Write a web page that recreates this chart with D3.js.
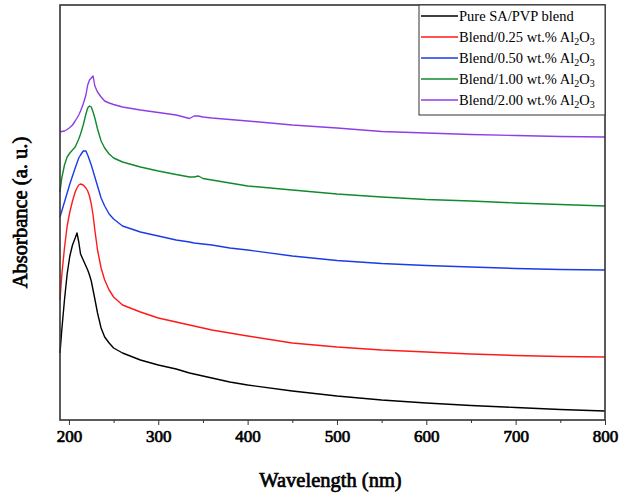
<!DOCTYPE html>
<html>
<head>
<meta charset="utf-8">
<script src="https://cdnjs.cloudflare.com/ajax/libs/d3/7.8.5/d3.min.js"></script>
<style>
  body { margin: 0; background: #fff; }
  svg { font-family: "Liberation Serif", "Times New Roman", serif; }
  .x.axis text, .title {
    font-family: "Liberation Serif", "Times New Roman", serif;
    font-weight: normal;
    fill: #000;
    stroke: #000;
    stroke-width: 0.7px;
  }
  .x.axis text { font-size: 17px; }
  .axis path, .axis line { stroke: #333; }
</style>
</head>
<body>
<script>
// wavelength grid (nm), shared by all series
var wavelength = [190,192,195,198,201,204,207,209,211,213,216,219,221,223,225,227,229,232,236,240,245,250,260,280,300,320,335,340,345,350,360,380,400,450,500,550,600,650,700,750,800];

// absorbance (a.u., offset as in the figure)
var pureBlend = [0.67,0.90,1.20,1.46,1.64,1.75,1.82,1.87,1.78,1.66,1.60,1.54,1.50,1.45,1.39,1.30,1.21,1.07,0.92,0.83,0.77,0.72,0.67,0.60,0.55,0.51,0.47,0.46,0.45,0.44,0.42,0.38,0.35,0.29,0.24,0.20,0.17,0.145,0.125,0.105,0.09];
var blend025 = [1.20,1.45,1.72,1.94,2.08,2.19,2.28,2.32,2.35,2.36,2.35,2.32,2.29,2.24,2.16,2.05,1.90,1.70,1.52,1.40,1.30,1.23,1.15,1.08,1.02,0.98,0.95,0.94,0.93,0.92,0.90,0.87,0.84,0.77,0.73,0.70,0.68,0.66,0.645,0.635,0.63];
var blend050 = [2.03,2.09,2.18,2.27,2.36,2.44,2.52,2.57,2.62,2.65,2.69,2.69,2.65,2.60,2.55,2.49,2.43,2.34,2.22,2.14,2.06,2.01,1.94,1.88,1.84,1.80,1.78,1.77,1.765,1.76,1.75,1.72,1.70,1.64,1.595,1.565,1.545,1.53,1.515,1.505,1.50];
var blend100 = [2.28,2.42,2.55,2.63,2.67,2.70,2.73,2.77,2.81,2.86,2.95,3.06,3.12,3.14,3.13,3.08,3.02,2.91,2.79,2.72,2.66,2.62,2.58,2.53,2.49,2.455,2.43,2.43,2.44,2.415,2.40,2.37,2.34,2.30,2.26,2.23,2.205,2.19,2.17,2.155,2.14];
var blend200 = [2.88,2.885,2.89,2.905,2.925,2.95,2.99,3.02,3.05,3.09,3.16,3.25,3.35,3.40,3.42,3.44,3.34,3.28,3.23,3.19,3.17,3.155,3.13,3.10,3.075,3.05,3.015,3.04,3.04,3.03,3.02,3.005,2.99,2.95,2.92,2.885,2.87,2.855,2.845,2.835,2.83];

var seriesNames = ["Pure SA/PVP blend", "Blend/0.25 wt.% Al", "Blend/0.50 wt.% Al", "Blend/1.00 wt.% Al", "Blend/2.00 wt.% Al"];
var seriesValues = [pureBlend, blend025, blend050, blend100, blend200];
var seriesColors = ["#000000", "#ff1a1a", "#1a3ce6", "#118a2e", "#8f3ee6"];
var xTicks = [200, 300, 400, 500, 600, 700, 800];

var width = 624, height = 493;
var margin = {top: 5, right: 19, bottom: 73, left: 60};

var svg = d3.select("body").append("svg")
    .attr("width", width)
    .attr("height", height);

var x = d3.scaleLinear().domain([190, 800]).range([margin.left, width - margin.right]);
var y = d3.scaleLinear().domain([0, 4.15]).range([height - margin.bottom, margin.top]);

// minor ticks
svg.append("g")
    .attr("class", "x axis minor")
    .attr("transform", "translate(0," + (height - margin.bottom) + ")")
    .call(d3.axisBottom(x).tickValues(d3.range(250, 800, 100)).tickSize(3).tickFormat(""))
    .call(function(g) { g.select(".domain").remove(); });

// major ticks + labels
svg.append("g")
    .attr("class", "x axis")
    .attr("transform", "translate(0," + (height - margin.bottom) + ")")
    .call(d3.axisBottom(x).tickValues(xTicks).tickSize(5).tickPadding(5).tickSizeOuter(0))
    .call(function(g) { g.select(".domain").remove(); });

// lines
var line = d3.line()
    .x(function(d, i) { return x(wavelength[i]); })
    .y(function(d) { return y(d); });

seriesValues.forEach(function(vals, i) {
  svg.append("path")
      .datum(vals)
      .attr("fill", "none")
      .attr("stroke", seriesColors[i])
      .attr("stroke-width", 1.4)
      .attr("stroke-linejoin", "round")
      .attr("d", line);
});

// frame
svg.append("rect")
    .attr("x", x(190))
    .attr("y", y(4.15))
    .attr("width", x(800) - x(190))
    .attr("height", y(0) - y(4.15))
    .attr("fill", "none")
    .attr("stroke", "#333")
    .attr("stroke-width", 1.6);

// legend
var lg = svg.append("g").attr("transform", "translate(419," + margin.top + ")");
lg.append("rect")
    .attr("width", x(800) - 419)
    .attr("height", 110)
    .attr("fill", "#fff")
    .attr("stroke", "#333")
    .attr("stroke-width", 1);

seriesNames.forEach(function(name, i) {
  var yy = 11 + i * 21;
  lg.append("line")
      .attr("x1", 2).attr("x2", 39)
      .attr("y1", yy).attr("y2", yy)
      .attr("stroke", seriesColors[i])
      .attr("stroke-width", 1.4);
  var t = lg.append("text")
      .attr("x", 40)
      .attr("y", yy + 5)
      .style("font-size", "14.5px")
      .attr("fill", "#000");
  t.append("tspan").text(name);
  if (i > 0) {
    t.append("tspan").attr("dy", 3).style("font-size", "10px").text("2");
    t.append("tspan").attr("dy", -3).text("O");
    t.append("tspan").attr("dy", 3).style("font-size", "10px").text("3");
  }
});

// axis titles
svg.append("text")
    .attr("class", "title")
    .attr("x", (x(190) + x(800)) / 2 - 2)
    .attr("y", 487)
    .attr("text-anchor", "middle")
    .style("font-size", "20.5px")
    .text("Wavelength (nm)");

svg.append("text")
    .attr("class", "title")
    .attr("transform", "translate(27," + ((y(0) + y(4.15)) / 2) + ") rotate(-90)")
    .attr("text-anchor", "middle")
    .style("font-size", "20.5px")
    .text("Absorbance (a. u.)");
</script>
</body>
</html>
